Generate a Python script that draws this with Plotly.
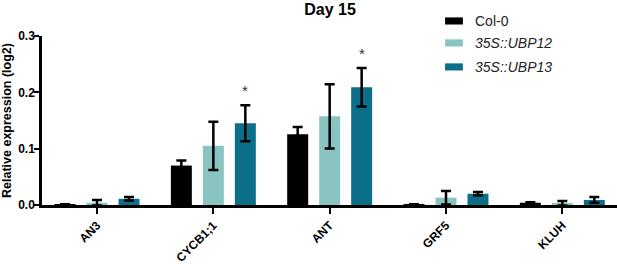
import plotly.graph_objects as go

genes = ["AN3", "CYCB1;1", "ANT", "GRF5", "KLUH"]
series_names = ["Col-0", "35S::UBP12", "35S::UBP13"]
series_labels = ["Col-0", "<i>35S::UBP12</i>", "<i>35S::UBP13</i>"]
colors = ["#000000", "#89C4C2", "#0B6F89"]

col0 = [0.001, 0.070, 0.1255, 0.001, 0.004]
col0_err = [0.0005, 0.009, 0.013, 0.0005, 0.001]
ubp12 = [0.004, 0.105, 0.1575, 0.013, 0.003]
ubp12_err = [0.005, 0.043, 0.057, 0.012, 0.004]
ubp13 = [0.011, 0.145, 0.209, 0.020, 0.009]
ubp13_err = [0.003, 0.032, 0.034, 0.003, 0.005]

values = [col0, ubp12, ubp13]
errors = [col0_err, ubp12_err, ubp13_err]

# significance markers (gene, series index)
stars = [("CYCB1;1", 2), ("ANT", 2)]

FONT = "Liberation Sans, Arial, sans-serif"

fig = go.Figure()
for name, vals, errs, c in zip(series_names, values, errors, colors):
    fig.add_trace(go.Bar(
        x=genes, y=vals, name=name, marker=dict(color=c, line=dict(width=0)),
        error_y=dict(type="data", array=errs, visible=True, color="black",
                     thickness=2.5, width=5),
        showlegend=False,
    ))

# significance asterisks
for g, si in stars:
    idx = genes.index(g)
    top = values[si][idx] + errors[si][idx]
    fig.add_annotation(x=g, y=top, xref="x", yref="y", text="*", showarrow=False,
                       xshift=(si - 1) * 32, yanchor="bottom", yshift=4,
                       font=dict(family=FONT, size=15, color="#333"))

# custom legend
leg_y = [1.089, 0.959, 0.817]
for lab, c, yy in zip(series_labels, colors, leg_y):
    fig.add_shape(type="rect", xref="paper", yref="paper",
                  x0=0.701, x1=0.732, y0=yy - 0.021, y1=yy + 0.021,
                  fillcolor=c, line=dict(width=0))
    fig.add_annotation(xref="paper", yref="paper", x=0.7496, y=yy, text=lab,
                       showarrow=False, xanchor="left", yanchor="middle",
                       font=dict(family=FONT, size=14, color="#222"))

fig.update_layout(
    width=617, height=264,
    margin=dict(l=42, r=0, t=36, b=59),
    paper_bgcolor="white", plot_bgcolor="white",
    barmode="group", bargap=0.175, bargroupgap=0.344,
    title=dict(text="<b>Day 15</b>", x=0.535, xanchor="center", y=0.965, yanchor="middle",
               font=dict(family=FONT, size=16, color="black")),
    font=dict(family=FONT, color="black"),
    xaxis=dict(
        range=[-0.473, 4.47], showline=True, linecolor="black", linewidth=2.5,
        ticks="outside", ticklen=6, tickwidth=2, tickcolor="black",
        tickangle=-45, tickfont=dict(family=FONT, size=12, color="black"),
        ticklabelstandoff=0,
        tickvals=genes, ticktext=[f"<b>{g}</b>" for g in genes],
        showgrid=False, zeroline=False, automargin=False,
    ),
    yaxis=dict(
        range=[0, 0.3], tickvals=[0, 0.1, 0.2, 0.3],
        ticktext=["<b>0.0</b>", "<b>0.1</b>", "<b>0.2</b>", "<b>0.3</b>"],
        showline=True, linecolor="black", linewidth=2.5,
        ticks="outside", ticklen=5, tickwidth=2, tickcolor="black",
        tickfont=dict(family=FONT, size=12, color="black"),
        ticklabelstandoff=-3,
        showgrid=False, zeroline=False, automargin=False,
        title=dict(text="<b>Relative expression (log2)</b>", standoff=4,
                   font=dict(family=FONT, size=12.5, color="black")),
    ),
)

fig.write_html("out.html", config={"displayModeBar": False},
               post_script="document.body.style.margin='0';")
